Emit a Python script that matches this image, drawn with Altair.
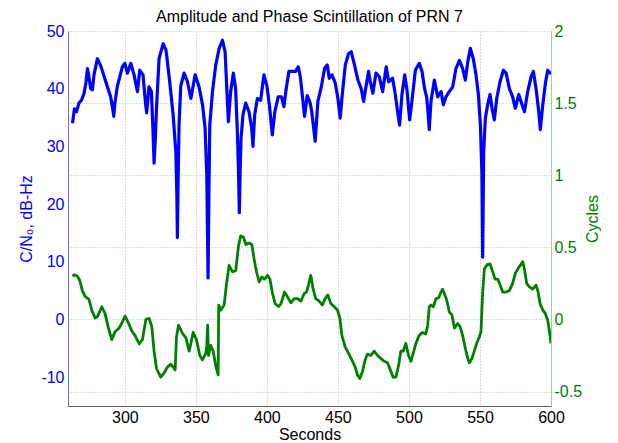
import altair as alt
import pandas as pd

# C/N0 (dB-Hz) series
blue_t = [263.2, 264.5, 266.0, 267.7, 269.5, 271.3, 272.6, 273.7, 274.8, 276.0, 277.2, 278.3,
          280.7, 283.0, 286.6, 290.0, 291.5, 292.2, 293.0, 294.8, 298.3, 300.0, 301.8, 304.2,
          306.5, 308.9, 310.5, 312.8, 314.7, 315.4, 317.0, 318.7, 319.8, 320.6, 321.4, 322.3,
          324.1, 327.0, 329.0, 331.6, 334.0, 335.9, 336.6, 337.0, 337.5, 338.2, 339.4, 341.7,
          344.1, 346.5, 349.5, 352.3, 354.7, 356.5, 357.7, 358.6, 359.2, 359.8, 361.7, 364.0,
          366.4, 368.7, 370.6, 371.7, 372.9, 374.5, 376.4, 378.0, 379.2, 380.0, 380.6, 381.2,
          381.8, 383.2, 385.1, 387.4, 389.3, 390.2, 391.4, 393.3, 395.6, 397.9, 400.0, 401.9,
          403.8, 405.6, 408.0, 410.3, 412.0, 413.6, 415.5, 417.8, 420.2, 422.1, 423.7, 425.4,
          426.5, 428.4, 430.5, 431.6, 434.0, 435.9, 438.3, 440.6, 442.5, 443.9, 445.8, 448.1,
          450.0, 451.6, 452.8, 455.2, 457.5, 459.4, 461.7, 464.1, 466.4, 468.1, 469.2, 471.6,
          472.8, 474.6, 476.8, 479.1, 481.5, 484.0, 485.7, 488.5, 490.4, 492.3, 493.4, 495.1,
          497.0, 498.6, 500.5, 502.1, 504.5, 507.3, 509.2, 511.0, 512.5, 513.2, 514.3, 515.5,
          517.9, 520.2, 522.6, 524.2, 526.1, 528.4, 530.8, 533.1, 535.5, 537.8, 539.7, 541.4,
          543.2, 545.3, 547.2, 548.9, 550.3, 551.4, 551.9, 552.6, 553.8, 555.4, 557.1, 558.5,
          560.1, 561.8, 564.1, 566.5, 568.4, 570.7, 573.0, 574.9, 577.3, 578.9, 581.3, 583.6,
          586.0, 587.6, 589.5, 591.4, 592.5, 594.2, 596.1, 597.7, 599.3, 600.0]
blue_v = [34.0, 36.5, 36.0, 37.5, 38.0, 39.2, 41.0, 43.5, 42.0, 40.0, 39.8, 42.4,
          45.2, 44.0, 41.2, 38.6, 36.5, 35.2, 37.5, 40.5, 43.8, 44.4, 42.7, 44.4,
          42.4, 39.5, 43.2, 42.4, 37.2, 35.8, 40.3, 39.5, 33.0, 27.1, 31.0, 36.6,
          45.2, 47.8, 46.7, 41.2, 35.5, 29.1, 22.0, 14.2, 24.0, 34.0, 40.5, 42.7,
          41.2, 38.3, 42.4, 40.3, 37.2, 33.2, 25.1, 7.2, 22.0, 33.7, 39.5, 44.1,
          47.0, 48.4, 46.4, 40.5, 34.3, 39.5, 42.7, 40.0, 32.6, 26.0, 18.5, 26.0,
          31.4, 35.5, 37.5, 36.0, 33.2, 30.0, 35.5, 38.3, 38.0, 42.4, 40.5, 36.9,
          32.0, 36.0, 38.6, 38.6, 36.9, 40.0, 43.0, 43.0, 43.0, 43.8, 41.8, 37.8,
          35.2, 38.8, 37.5, 36.0, 30.9, 37.8, 40.3, 43.5, 44.1, 41.8, 42.4, 41.0,
          38.3, 34.9, 38.3, 44.1, 46.1, 46.4, 44.1, 41.5, 40.0, 37.8, 39.5, 43.0,
          41.2, 39.2, 42.7, 42.1, 39.5, 43.8, 41.2, 41.8, 39.0, 35.5, 33.7, 39.0,
          42.4, 39.8, 34.6, 37.8, 43.2, 44.4, 43.0, 40.0, 38.5, 36.6, 32.9, 37.8,
          41.5, 38.6, 39.5, 37.2, 38.6, 39.5, 40.3, 43.5, 44.9, 43.5, 41.5, 44.6,
          47.0, 45.2, 42.4, 39.0, 33.7, 25.1, 10.8, 29.1, 34.9, 37.2, 39.0, 36.6,
          34.6, 38.3, 41.2, 43.2, 42.7, 40.0, 38.6, 36.6, 39.0, 37.8, 36.0, 39.5,
          42.1, 43.0, 40.0, 36.0, 32.9, 37.2, 41.0, 43.2, 42.7, 42.9]

# Phase (cycles) series
green_t = [263.2, 264.5, 266.6, 268.3, 270.1, 272.0, 274.8, 276.7, 279.1, 280.7, 283.8, 286.1,
           288.5, 290.8, 293.1, 296.0, 298.3, 300.2, 302.5, 304.9, 307.2, 310.1, 312.4, 314.8,
           317.1, 319.0, 320.6, 322.3, 325.3, 327.7, 330.0, 332.4, 334.0, 335.4, 336.4, 337.8,
           340.6, 343.0, 345.3, 348.1, 350.4, 352.8, 354.6, 357.0, 357.7, 358.3, 358.9, 360.5,
           362.2, 364.0, 365.7, 366.1, 367.6, 369.9, 371.5, 373.4, 375.8, 378.1, 380.0, 381.6,
           383.5, 385.2, 387.5, 389.4, 391.0, 392.7, 394.6, 396.4, 398.3, 400.4, 402.1, 404.0,
           405.8, 408.2, 410.0, 412.4, 414.5, 416.9, 419.2, 421.6, 423.9, 426.3, 427.9, 429.3,
           430.9, 432.6, 434.4, 436.8, 439.1, 441.0, 442.9, 445.0, 447.4, 449.7, 451.4, 452.8,
           455.1, 457.5, 459.8, 462.2, 463.8, 465.4, 467.3, 469.2, 470.8, 473.2, 475.5, 477.9,
           480.2, 482.6, 484.9, 487.3, 488.9, 490.8, 492.7, 494.3, 496.0, 497.8, 499.7, 501.4,
           503.0, 504.9, 507.2, 509.6, 511.9, 513.2, 514.3, 515.5, 517.2, 519.0, 520.9, 522.6,
           523.7, 524.9, 526.6, 528.4, 530.3, 532.0, 534.3, 536.0, 537.8, 539.7, 541.4, 542.5,
           544.4, 546.0, 547.7, 549.6, 550.7, 551.9, 553.1, 555.0, 557.1, 559.0, 560.6, 562.5,
           564.1, 566.0, 568.4, 570.7, 573.0, 574.9, 577.3, 580.1, 581.3, 582.9, 584.8, 587.1,
           589.5, 590.7, 592.3, 594.2, 596.1, 597.7, 599.3, 600.0]
green_v = [0.30, 0.31, 0.30, 0.27, 0.20, 0.16, 0.14, 0.065, 0.01, 0.02, 0.088, 0.04,
           -0.06, -0.14, -0.085, -0.06, -0.016, 0.023, -0.023, -0.08, -0.11, -0.17, -0.14, 0.0,
           0.007, -0.05, -0.22, -0.34, -0.40, -0.37, -0.33, -0.31, -0.33, -0.35, -0.12, -0.04,
           -0.097, -0.127, -0.22, -0.09, -0.14, -0.25, -0.28, -0.235, -0.18, -0.04, -0.25, -0.18,
           -0.22, -0.32, -0.385, 0.10, 0.065, 0.10, 0.24, 0.375, 0.33, 0.34, 0.51, 0.58,
           0.57, 0.52, 0.53, 0.52, 0.42, 0.33, 0.26, 0.295, 0.28, 0.306, 0.28, 0.18,
           0.11, 0.09, 0.11, 0.19, 0.157, 0.115, 0.145, 0.145, 0.127, 0.18, 0.19, 0.24,
           0.306, 0.21, 0.145, 0.127, 0.10, 0.145, 0.17, 0.11, 0.088, 0.065, 0.007, -0.11,
           -0.19, -0.235, -0.28, -0.33, -0.385, -0.41, -0.36, -0.28, -0.24, -0.25, -0.22, -0.25,
           -0.27, -0.29, -0.30, -0.36, -0.40, -0.40, -0.32, -0.22, -0.22, -0.166, -0.25, -0.29,
           -0.235, -0.166, -0.11, -0.09, -0.10, -0.04, 0.088, 0.10, 0.088, 0.145, 0.15, 0.19,
           0.21, 0.18, 0.134, 0.053, 0.03, -0.06, -0.028, -0.05, -0.11, -0.20, -0.27, -0.30,
           -0.27, -0.22, -0.166, -0.12, -0.085, 0.19, 0.35, 0.38, 0.385, 0.33, 0.28, 0.28,
           0.24, 0.19, 0.19, 0.20, 0.25, 0.32, 0.36, 0.40, 0.35, 0.25, 0.226, 0.21,
           0.237, 0.20, 0.11, 0.065, 0.04, -0.005, -0.11, -0.166]

x_ticks = [300, 350, 400, 450, 500, 550, 600]
left_ticks = [-10, 0, 10, 20, 30, 40, 50]
right_ticks = [-0.5, 0, 0.5, 1, 1.5, 2]

blue_df = pd.DataFrame({"t": blue_t, "v": blue_v})
green_df = pd.DataFrame({"t": green_t, "v": green_v})

FONT = "Liberation Sans"

x_enc = alt.X(
    "t:Q",
    scale=alt.Scale(domain=[260, 600], nice=False, zero=False),
    axis=alt.Axis(
        values=x_ticks, title="Seconds", grid=True, gridColor="#b4b4b4", gridDash=[1, 2],
        gridWidth=1, domainColor="#606060", tickSize=0, labelPadding=3, labelColor="black",
        titleColor="black", titlePadding=1, labelFlush=False,
    ),
)

blue = alt.Chart(blue_df).mark_line(
    color="#0000ff", strokeWidth=3.2, strokeJoin="round", clip=True
).encode(
    x=x_enc,
    y=alt.Y(
        "v:Q",
        scale=alt.Scale(domain=[-15, 50], nice=False, zero=False),
        axis=alt.Axis(
            orient="left", values=left_ticks, grid=False, title="C/N\u2080, dB-Hz",
            labelColor="#0000ff", titleColor="#0000ff", domainColor="#6a6aff",
            tickSize=0, labelPadding=4, titlePadding=6, labelExpr="'' + datum.value",
        ),
    ),
)

green = alt.Chart(green_df).mark_line(
    color="#007f00", strokeWidth=2.8, strokeJoin="round", clip=True
).encode(
    x=alt.X("t:Q", scale=alt.Scale(domain=[260, 600], nice=False, zero=False)),
    y=alt.Y(
        "v:Q",
        scale=alt.Scale(domain=[-0.6, 2], nice=False, zero=False),
        axis=alt.Axis(
            orient="right", values=right_ticks, grid=True, gridColor="#9fd09f",
            gridDash=[1, 2], gridWidth=1, title="Cycles", titleAngle=270,
            titleBaseline="top", labelColor="#008000", titleColor="#008000",
            domainColor="#9fd09f", tickSize=0, labelPadding=3, titlePadding=3,
            labelExpr="'' + datum.value",
        ),
    ),
)

chart = (
    alt.layer(blue, green)
    .resolve_scale(y="independent")
    .properties(
        width=483,
        height=375,
        title=alt.TitleParams(
            "Amplitude and Phase Scintillation of PRN 7", fontSize=16, font=FONT,
            fontWeight="normal", color="black", anchor="middle", frame="group",
            offset=9, dy=11,
        ),
        autosize=alt.AutoSizeParams(type="none"),
        padding={"left": 60, "top": 23, "right": 50, "bottom": 36},
    )
    .configure_axis(labelFont=FONT, titleFont=FONT, labelFontSize=16, titleFontSize=16,
                    titleFontWeight="normal")
    .configure_view(strokeWidth=0)
)

chart.save("out.html", embed_options={"renderer": "svg", "actions": False})
